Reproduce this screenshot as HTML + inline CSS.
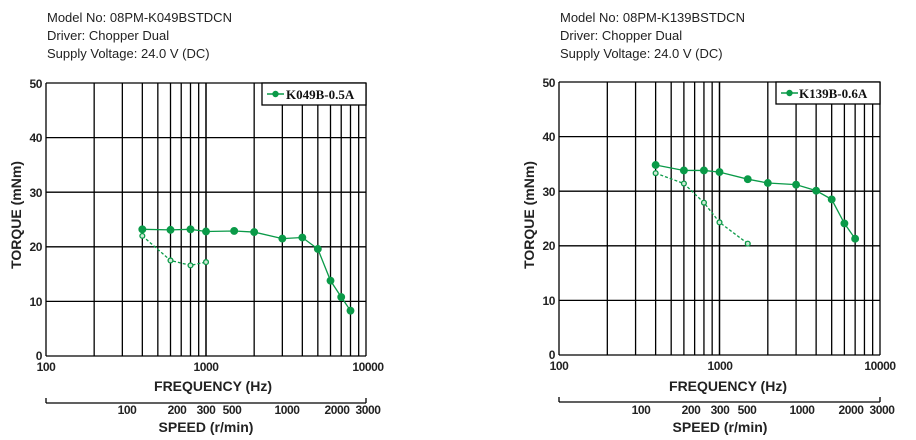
<!DOCTYPE html>
<html><head><meta charset="utf-8"><style>
body{margin:0;background:#fff;width:916px;height:440px;overflow:hidden}
svg{display:block}
.h{font:13px "Liberation Sans Narrow","Liberation Sans",sans-serif;fill:#222}
.t{font:bold 12px "Liberation Sans",sans-serif;fill:#222;letter-spacing:-0.4px}
.b{font:bold 14px "Liberation Sans",sans-serif;fill:#222}
.lg{font:bold 13px "Liberation Serif",serif;fill:#111}
</style></head><body>
<svg id="s" width="916" height="440" xmlns="http://www.w3.org/2000/svg">
<text class="h" x="47" y="22">Model No: 08PM-K049BSTDCN</text>
<text class="h" x="47" y="40">Driver: Chopper Dual</text>
<text class="h" x="47" y="58">Supply Voltage: 24.0 V (DC)</text>
<text class="h" x="560" y="22">Model No: 08PM-K139BSTDCN</text>
<text class="h" x="560" y="40">Driver: Chopper Dual</text>
<text class="h" x="560" y="58">Supply Voltage: 24.0 V (DC)</text>

<g class="t" text-anchor="end">
<text x="42" y="88">50</text><text x="42" y="142">40</text><text x="42" y="197">30</text><text x="42" y="251">20</text><text x="42" y="306">10</text><text x="42" y="360">0</text>
<text x="555" y="87">50</text><text x="555" y="141">40</text><text x="555" y="196">30</text><text x="555" y="250">20</text><text x="555" y="305">10</text><text x="555" y="359">0</text>
</g>
<text class="b" transform="translate(21,215) rotate(-90)" text-anchor="middle">TORQUE (mNm)</text>
<text class="b" transform="translate(534,215) rotate(-90)" text-anchor="middle">TORQUE (mNm)</text>
<g class="t" text-anchor="middle">
<text x="46" y="371">100</text><text x="206" y="371">1000</text><text x="368" y="371">10000</text>
<text x="559" y="370">100</text><text x="720" y="370">1000</text><text x="880" y="370">10000</text>
<text x="127" y="414">100</text><text x="177" y="414">200</text><text x="206" y="414">300</text><text x="232" y="414">500</text><text x="287" y="414">1000</text><text x="337" y="414">2000</text><text x="368" y="414">3000</text>
<text x="641" y="414">100</text><text x="691" y="414">200</text><text x="720" y="414">300</text><text x="747" y="414">500</text><text x="802" y="414">1000</text><text x="851" y="414">2000</text><text x="882" y="414">3000</text>
</g>
<text class="b" x="213" y="391" text-anchor="middle">FREQUENCY (Hz)</text>
<text class="b" x="728" y="391" text-anchor="middle">FREQUENCY (Hz)</text>
<text class="b" x="206" y="432" text-anchor="middle">SPEED (r/min)</text>
<text class="b" x="720" y="432" text-anchor="middle">SPEED (r/min)</text>
<g id="dyn"></g>
<text class="lg" x="286" y="99">K049B-0.5A</text>
<text class="lg" x="799" y="98">K139B-0.6A</text>
</svg>
<script>
var g=document.getElementById('dyn'),o='';
function L(a,b,c,d,w,col,da){o+='<line x1="'+a+'" y1="'+b+'" x2="'+c+'" y2="'+d+'" stroke="'+(col||'#000')+'" stroke-width="'+(w||1.3)+'"'+(da?' stroke-dasharray="'+da+'"':'')+'/>';}
function chart(x0,x1,y0,y1,solid,dash,lx0,ly1){
 var dw=(x1-x0)/2,fx=function(f){return x0+dw*Math.log10(f/100)};
 var fy=function(t){return y1-(y1-y0)*t/50};
 for(var d=100;d<10000;d*=10)for(var k=1;k<=10;k++){var x=fx(d*k);L(x,y0,x,y1,1.3);}
 for(var t=0;t<=50;t+=10)L(x0,fy(t),x1,fy(t),1.3);
 o+='<rect x="'+lx0+'" y="'+y0+'" width="'+(x1-lx0)+'" height="'+(ly1-y0)+'" fill="#fff" stroke="#000" stroke-width="1.3"/>';
 var my=(y0+ly1)/2;L(lx0+5,my,lx0+22,my,1.5,'#0a9a48');o+='<circle cx="'+(lx0+13.5)+'" cy="'+my+'" r="3.2" fill="#0a9a48"/>';
 function ser(p,da,r,fill){var s='';p.forEach(function(q){s+=fx(q[0])+','+fy(q[1])+' '});
  o+='<polyline points="'+s+'" fill="none" stroke="#0a9a48" stroke-width="1.3"'+(da?' stroke-dasharray="3,2"':'')+'/>';
  p.forEach(function(q){o+='<circle cx="'+fx(q[0])+'" cy="'+fy(q[1])+'" r="'+r+'" fill="'+fill+'" stroke="#0a9a48" stroke-width="1.3"/>'});}
 ser(dash,1,2.4,'#cfe9d6');ser(solid,0,3.3,'#0a9a48');
 var ay=y1+47;L(x0,ay,x1,ay,1.3);L(x0,ay-5,x0,ay,1.3);L(x1,ay-5,x1,ay,1.3);
}
chart(46,366,83,356,[[400,23.2],[600,23.1],[800,23.2],[1000,22.8],[1500,22.9],[2000,22.7],[3000,21.5],[4000,21.7],[5000,19.6],[6000,13.8],[7000,10.8],[8000,8.3]],[[400,22],[600,17.5],[800,16.6],[1000,17.2]],262,105);
chart(559,880,82,355,[[400,34.8],[600,33.8],[800,33.8],[1000,33.5],[1500,32.2],[2000,31.5],[3000,31.2],[4000,30.1],[5000,28.5],[6000,24.1],[7000,21.3]],[[400,33.3],[600,31.4],[800,27.9],[1000,24.3],[1500,20.4]],776,104);
g.innerHTML=o;
</script>
</body></html>
